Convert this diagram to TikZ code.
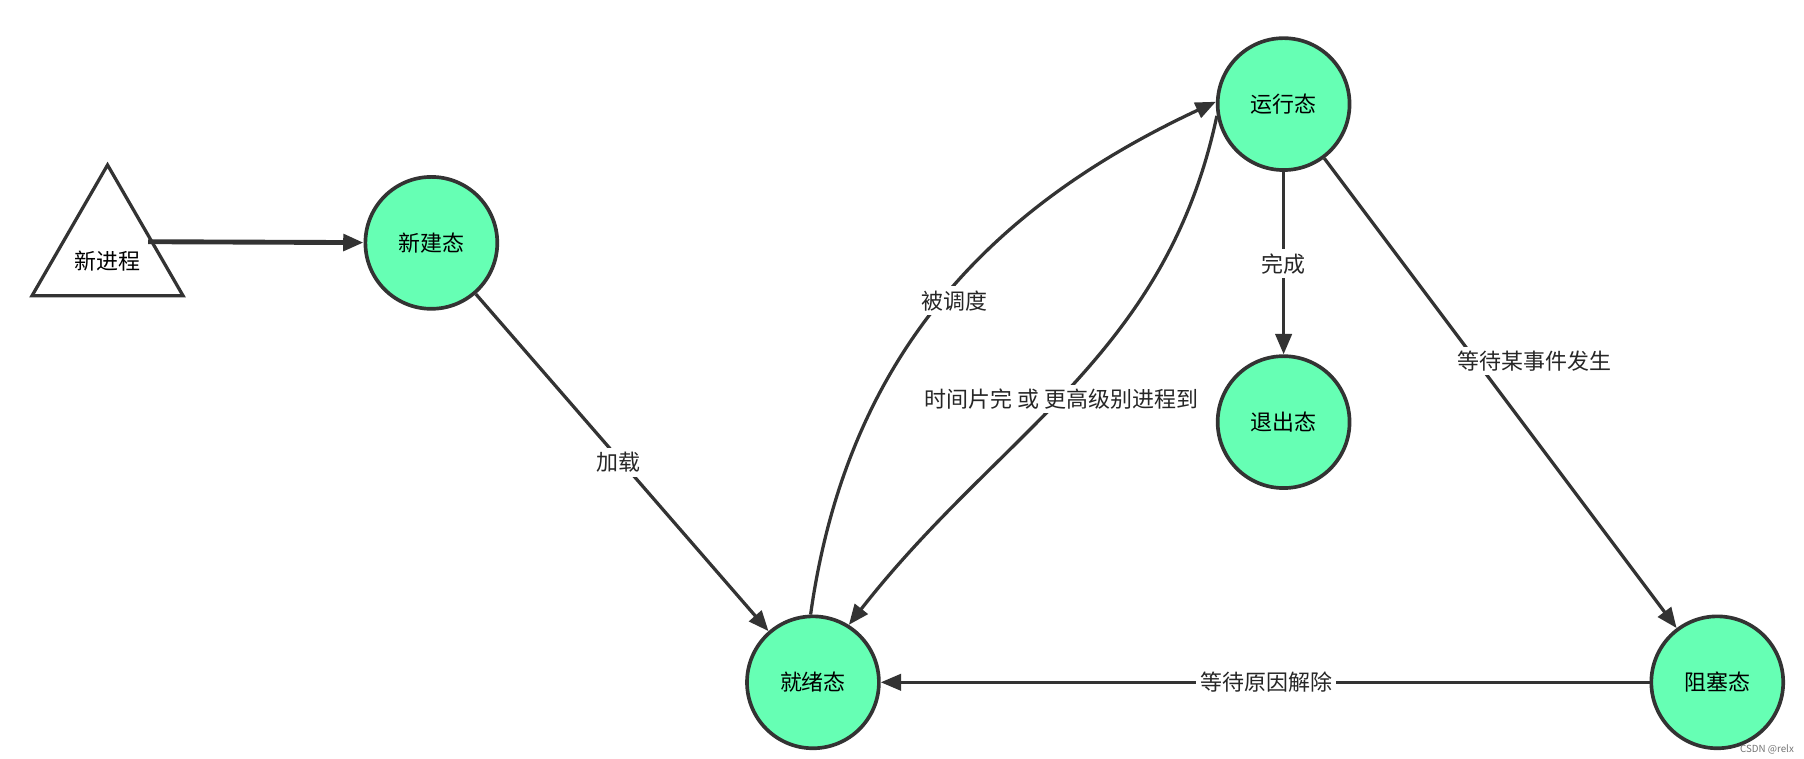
\documentclass[tikz,border=0pt]{standalone}
\usepackage{fontspec}
\setmainfont{Noto Sans CJK SC}
\usetikzlibrary{arrows.meta,shapes.geometric}
\begin{document}
\begin{tikzpicture}[x=0.01cm,y=-0.01cm,
  st/.style={circle,draw=black!80,line width=0.9pt,fill=green!60!cyan!35!white,fill={rgb,255:red,102;green,255;blue,180},minimum size=1.14cm,inner sep=0pt,font=\fontsize{5.4}{6}\selectfont},
  lab/.style={fill=white,inner sep=1pt,font=\fontsize{5.4}{6}\selectfont,text=black!85},
  ar/.style={draw=black!80,line width=0.8pt,-{Triangle[length=5pt,width=4pt]}}]
\useasboundingbox (0,0) rectangle (1560,656);
\node[draw=black!80,line width=0.8pt,fill=white,isosceles triangle,shape border rotate=90,isosceles triangle apex angle=60,minimum height=1.13cm,inner sep=0pt] (p) at (93,218) {};
\node[font=\fontsize{5.4}{6}\selectfont] (pt) at (93,226) {新进程};
\node[st] (n) at (373,210) {新建态};
\node[st] (r) at (1110,90) {运行态};
\node[st] (e) at (1110,365) {退出态};
\node[st] (j) at (703,590) {就绪态};
\node[st] (b) at (1485,590) {阻塞态};
\draw[ar,line width=1.2pt] (128,209) coordinate (ps) -- (n);
\draw[ar] (n) -- (j);
\draw[ar] (j.92) to[out=82,in=205] (r.178);
\draw[ar] (r.190) to[out=258,in=52] (j.58);
\draw[ar] (r) -- (e);
\draw[ar] (r) -- (b);
\draw[ar] (b) -- (j);
\node[lab] (l1) at (535,400) {加载};
\node[lab] (l2) at (825,260) {被调度};
\node[lab] (l3) at (918,345) {时间片完 或 更高级别进程到};
\node[lab] (l4) at (1110,228) {完成};
\node[lab] (l5) at (1327,312) {等待某事件发生};
\node[lab] (l6) at (1095,590) {等待原因解除};
\node[font=\fontsize{2.4}{3}\selectfont,text=black!55] (wm) at (1528,648) {CSDN @relx};
\end{tikzpicture}
\end{document}
